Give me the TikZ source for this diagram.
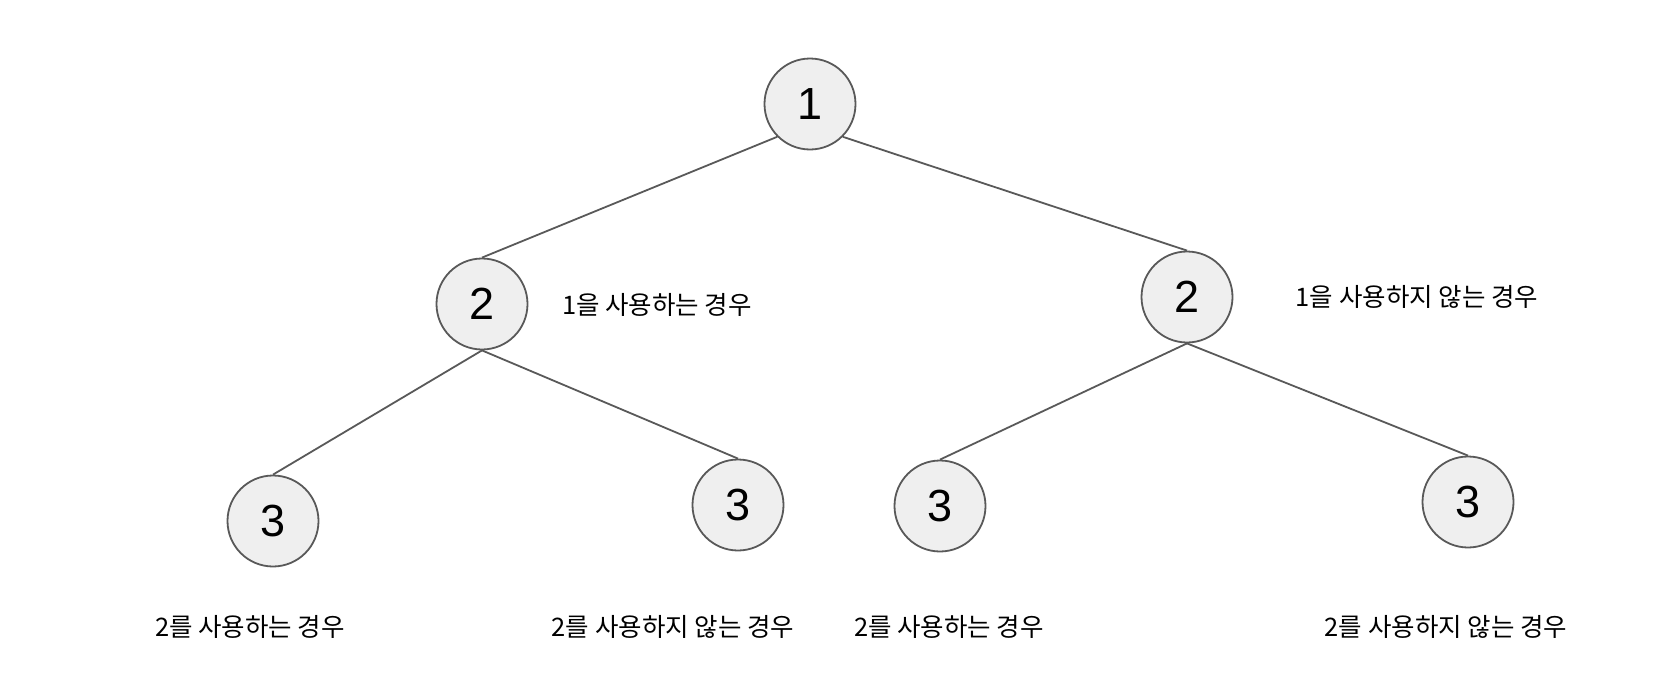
\documentclass[tikz,border=0pt]{standalone}
\usepackage{fontspec}
\setmainfont{Liberation Sans}
\newfontfamily\krfont{Noto Sans CJK KR}
\definecolor{nodefill}{RGB}{239,239,239}
\definecolor{nodeline}{RGB}{89,89,89}
\usepackage{tikz}
\usetikzlibrary{positioning}

\tikzset{
  numnode/.style={circle, draw=nodeline, line width=1.8pt, fill=nodefill,
                  minimum size=91pt, inner sep=0pt, font=\fontsize{45}{45}\selectfont},
  casetext/.style={font=\krfont\fontsize{25.5}{28}\selectfont, inner sep=0pt},
  link/.style={draw=nodeline, line width=1.8pt}
}

\begin{document}
\begin{tikzpicture}[x=1pt, y=-1pt]
    \useasboundingbox (0,0) rectangle (1660,696);
    % nodes
    \node[numnode] (top) at (810,104) {1};
    \node[numnode] (midL) at (482,304) {2};
    \node[numnode] (midR) at (1187,297) {2};
    \node[numnode] (leafA) at (273,521) {3};
    \node[numnode] (leafB) at (738,505) {3};
    \node[numnode] (leafC) at (940,506) {3};
    \node[numnode] (leafD) at (1468,502) {3};
    % labels
    \node[casetext] (useOne) at (657,305) {1을 사용하는 경우};
    \node[casetext] (skipOne) at (1417,297) {1을 사용하지 않는 경우};
    \node[casetext] (useTwoA) at (250,627) {2를 사용하는 경우};
    \node[casetext] (skipTwoA) at (673,627) {2를 사용하지 않는 경우};
    \node[casetext] (useTwoB) at (949,627) {2를 사용하는 경우};
    \node[casetext] (skipTwoB) at (1446,627) {2를 사용하지 않는 경우};
    % edges
    \draw[link] (top.south west) -- (midL.north);
    \draw[link] (top.south east) -- (midR.north);
    \draw[link] (midL.south) -- (leafA.north);
    \draw[link] (midL.south) -- (leafB.north);
    \draw[link] (midR.south) -- (leafC.north);
    \draw[link] (midR.south) -- (leafD.north);
\end{tikzpicture}
\end{document}
